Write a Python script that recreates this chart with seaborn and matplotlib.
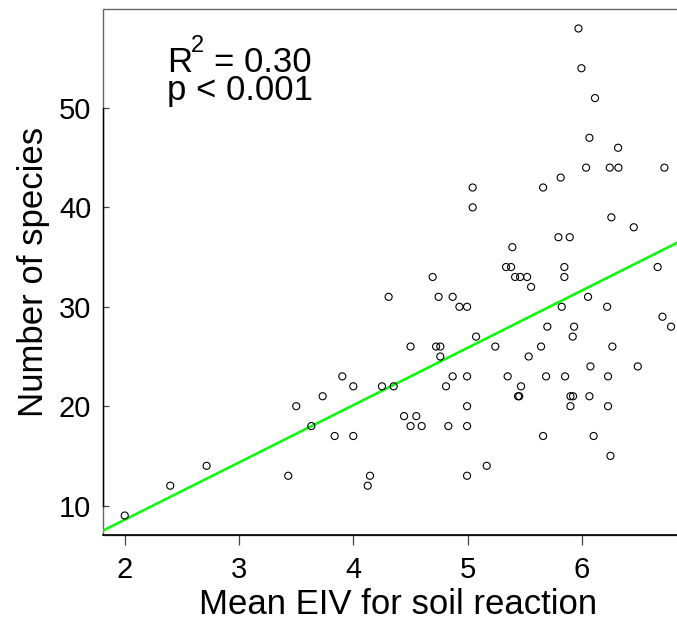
import numpy as np
import pandas as pd
import matplotlib
matplotlib.use("Agg")
import matplotlib.pyplot as plt
from matplotlib.patches import Rectangle
import seaborn as sns

# ---- data ----
eiv = [5.968, 5.994, 6.113, 6.064, 6.315, 6.035, 6.242, 6.318, 6.720, 5.813,
       5.043, 5.659, 5.043, 6.256, 6.452, 5.793, 5.892, 5.390, 5.335, 5.379,
       5.845, 6.661, 4.693, 5.414, 5.458, 5.519, 5.845, 5.554, 4.308, 4.745,
       4.868, 6.052, 4.927, 4.994, 5.822, 6.219, 6.703, 6.778, 5.696, 5.930,
       5.073, 5.918, 4.500, 4.723, 4.760, 5.241, 5.641, 6.265, 4.760, 5.533,
       6.073, 6.487, 4.868, 4.994, 5.349, 5.685, 5.851, 6.227, 3.903, 4.352,
       4.810, 5.466, 3.999, 4.250, 5.440, 5.450, 5.898, 5.921, 6.064, 3.731,
       4.994, 5.898, 6.227, 3.500, 4.443, 4.550, 4.500, 4.597, 4.830, 4.994,
       3.632, 5.659, 6.101, 3.836, 3.999, 6.248, 5.166, 2.716, 4.994, 3.430,
       4.145, 2.398, 4.125, 2.000]
species = [58, 54, 51, 47, 46, 44, 44, 44, 44, 43,
           42, 42, 40, 39, 38, 37, 37, 36, 34, 34,
           34, 34, 33, 33, 33, 33, 33, 32, 31, 31,
           31, 31, 30, 30, 30, 30, 29, 28, 28, 28,
           27, 27, 26, 26, 26, 26, 26, 26, 25, 25,
           24, 24, 23, 23, 23, 23, 23, 23, 23, 22,
           22, 22, 22, 22, 21, 21, 21, 21, 21, 21,
           20, 20, 20, 20, 19, 19, 18, 18, 18, 18,
           18, 17, 17, 17, 17, 15, 14, 14, 13, 13,
           13, 12, 12, 9]
x_ticks = [2, 3, 4, 5, 6]
y_ticks = [10, 20, 30, 40, 50]
x_label = "Mean EIV for soil reaction"
y_label = "Number of species"
r2_text = ["R", "2", "= 0.30"]
p_text = "p < 0.001"

df = pd.DataFrame({"eiv": eiv, "species": species})

sns.set_style("white")
plt.rcParams["font.family"] = ["Liberation Sans", "DejaVu Sans"]
plt.rcParams["text.color"] = "black"
plt.rcParams["axes.labelcolor"] = "black"
plt.rcParams["xtick.labelcolor"] = "black"
plt.rcParams["ytick.labelcolor"] = "black"

W, H = 677, 622
fig = plt.figure(figsize=(W / 100, H / 100), dpi=100)
left_px, right_px, top_px, bottom_px = 103, 693, 9, 535
ax = fig.add_axes([left_px / W, 1 - bottom_px / H,
                   (right_px - left_px) / W, (bottom_px - top_px) / H])

ax.set_xlim(1.81, 6.97)
ax.set_ylim(7.04, 59.96)

sns.regplot(data=df, x="eiv", y="species", ax=ax, ci=None, truncate=False,
            scatter=False, line_kws=dict(color="#00ff00", lw=1.8, zorder=2))
sns.scatterplot(data=df, x="eiv", y="species", ax=ax, marker="o", s=26,
                facecolor="none", edgecolor="black", linewidth=0.8, zorder=3)

ax.set_xlim(1.81, 6.97)
ax.set_ylim(7.04, 59.96)
ax.set_xticks(x_ticks)
ax.set_yticks(y_ticks)
ax.set_xticklabels([str(t) for t in x_ticks])
ax.set_yticklabels([str(t) for t in y_ticks])

for s in ["top", "right"]:
    ax.spines[s].set_visible(False)
ax.spines["left"].set_bounds(10, 50)
ax.spines["left"].set_color("black")
ax.spines["left"].set_linewidth(1.0)
ax.spines["bottom"].set_color("black")
ax.spines["bottom"].set_linewidth(1.2)
ax.add_patch(Rectangle((0, 0), 1, 1, transform=ax.transAxes, fill=False,
                       ec="#666666", lw=1.0, clip_on=False, zorder=1))

ax.tick_params(axis="x", direction="out", length=7.2, width=0.9, color="#444444",
               pad=7.6, labelsize=21, bottom=True)
ax.tick_params(axis="y", direction="in", length=4.3, width=0.9, color="#444444",
               pad=8.5, labelsize=21, left=True)

ax.set_xlabel(x_label, fontsize=25, labelpad=3)
ax.set_ylabel(y_label, fontsize=25, labelpad=6)

# statistics annotation (R-style raised superscript)
fig.text(166.7 / W, 1 - 71.7 / H, r2_text[0], fontsize=25, va="baseline", ha="left")
fig.text(191.0 / W, 1 - 51.7 / H, r2_text[1], fontsize=17, va="baseline", ha="left")
fig.text(214.5 / W, 1 - 71.7 / H, r2_text[2], fontsize=25, va="baseline", ha="left")
fig.text(166.7 / W, 1 - 100.0 / H, p_text, fontsize=25, va="baseline", ha="left")

fig.savefig("out.png", dpi=100)
